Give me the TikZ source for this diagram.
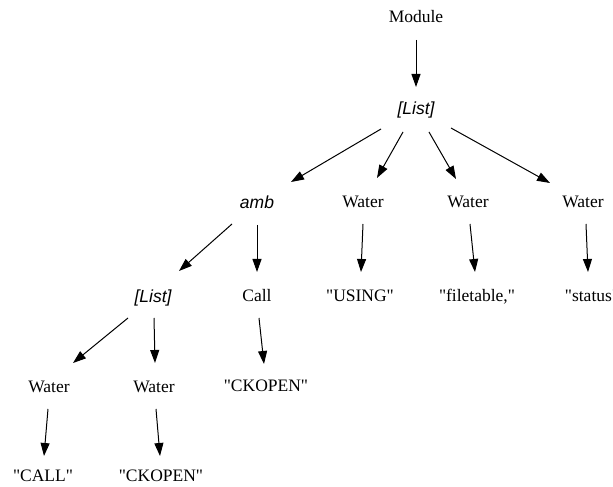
\documentclass[tikz,border=0pt]{standalone}
\usepackage{fontspec}
\setmainfont{Liberation Serif}[Ligatures=TeXOff]
\newfontfamily\hsans{Liberation Sans}
\usetikzlibrary{arrows.meta}
\begin{document}
\begin{tikzpicture}[x=1pt,y=1pt,
  lbl/.style={inner sep=0pt,text height=11.6pt,text depth=0pt,font=\fontsize{17.5}{20}\selectfont},
  ilbl/.style={lbl,font=\fontsize{17.5}{20}\selectfont\hsans\itshape,text height=12.5pt},
  edge/.style={line width=1pt,-{Triangle[length=13pt,width=9pt]}}]
\useasboundingbox (0,0) rectangle (613,487);
% nodes (y = 487 - pixel y)
\node[lbl]  (mod)    at (416,470) {Module};
\node[ilbl] (l1)     at (416,379) {[List]};
\node[ilbl] (amb)    at (257,285) {amb};
\node[lbl]  (w1)     at (363,285) {Water};
\node[lbl]  (w2)     at (468,285) {Water};
\node[lbl]  (w3)     at (583,285) {Water};
\node[ilbl] (l2)     at (153,191) {[List]};
\node[lbl]  (call)   at (257,191) {Call};
\node[lbl]  (using)  at (360,191) {"USING"};
\node[lbl]  (file)   at (477,191) {"filetable,"};
\node[lbl]  (status) at (592,191) {"status"};
\node[lbl]  (w4)     at (49,100)  {Water};
\node[lbl]  (w5)     at (154,100) {Water};
\node[lbl]  (ckA)    at (266,101) {"CKOPEN"};
\node[lbl]  (callq)  at (43,11)   {"CALL"};
\node[lbl]  (ckB)    at (161,11)  {"CKOPEN"};
% edges
\draw[edge] ([shift={(0,-23)}]mod.center)   -- ([shift={(0,21)}]l1.center);
\draw[edge] ([shift={(-35,-21)}]l1.center)  -- ([shift={(34,20)}]amb.center);
\draw[edge] ([shift={(-13,-24)}]l1.center)  -- ([shift={(14,24)}]w1.center);
\draw[edge] ([shift={(13,-24)}]l1.center)   -- ([shift={(-12,23)}]w2.center);
\draw[edge] ([shift={(35,-20)}]l1.center)   -- ([shift={(-33,19)}]w3.center);
\draw[edge] ([shift={(-25,-22)}]amb.center) -- ([shift={(26,25)}]l2.center);
\draw[edge] ([shift={(0,-23)}]amb.center)   -- ([shift={(0,24)}]call.center);
\draw[edge] ([shift={(0,-22)}]w1.center)    -- ([shift={(1,24)}]using.center);
\draw[edge] ([shift={(2,-22)}]w2.center)    -- ([shift={(-2,24)}]file.center);
\draw[edge] ([shift={(3,-22)}]w3.center)    -- ([shift={(-4,24)}]status.center);
\draw[edge] ([shift={(-25,-22)}]l2.center)  -- ([shift={(24,24)}]w4.center);
\draw[edge] ([shift={(1,-22)}]l2.center)    -- ([shift={(1,24)}]w5.center);
\draw[edge] ([shift={(2,-22)}]call.center)  -- ([shift={(-2,22)}]ckA.center);
\draw[edge] ([shift={(-1,-22)}]w4.center)   -- ([shift={(1,20)}]callq.center);
\draw[edge] ([shift={(2,-22)}]w5.center)    -- ([shift={(-1,20)}]ckB.center);
\end{tikzpicture}
\end{document}
